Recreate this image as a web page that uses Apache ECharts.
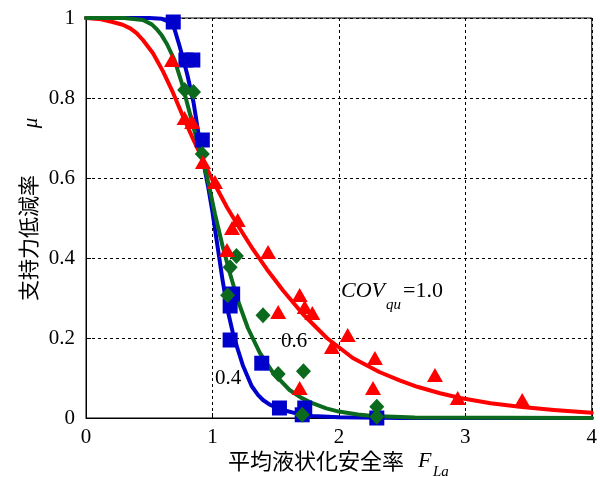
<!DOCTYPE html>
<html>
<head>
<meta charset="utf-8">
<script src="https://cdn.jsdelivr.net/npm/echarts@6/dist/echarts.min.js"></script>
<style>
html,body{margin:0;padding:0;background:#fff;}
#chart{width:600px;height:477px;}
</style>
</head>
<body>
<div id="chart"></div>
<script>
// ---- data ----
const xTicks = [0, 1, 2, 3, 4];
const yTicks = [0, 0.2, 0.4, 0.6, 0.8, 1];

// fitted curves (x = F_La, y = mu)
const blueCurve = [[0,1],[0.5,1],[0.6,0.998],[0.66,0.99],[0.70,0.972],[0.74,0.93],[0.80,0.86],[0.85,0.79],[0.885,0.72],[0.925,0.645],[0.965,0.58],[1.0,0.515],[1.04,0.43],[1.08,0.345],[1.12,0.27],[1.16,0.215],[1.20,0.172],[1.24,0.132],[1.31,0.08],[1.36,0.058],[1.40,0.045],[1.45,0.034],[1.51,0.025],[1.58,0.018],[1.67,0.011],[1.79,0.005],[2.0,0.002],[2.5,0],[4,0]];
const greenCurve = [[0,1],[0.3,1],[0.45,0.995],[0.52,0.984],[0.56,0.972],[0.60,0.956],[0.64,0.935],[0.70,0.895],[0.76,0.835],[0.81,0.775],[0.86,0.715],[0.92,0.65],[0.97,0.585],[1.02,0.51],[1.08,0.43],[1.14,0.36],[1.20,0.295],[1.28,0.225],[1.375,0.163],[1.48,0.113],[1.61,0.07],[1.70,0.051],[1.79,0.037],[1.90,0.024],[2.0,0.016],[2.15,0.009],[2.27,0.005],[2.6,0.001],[4,0]];
const redCurve = [[0,1],[0.12,0.997],[0.21,0.99],[0.29,0.983],[0.35,0.974],[0.40,0.962],[0.45,0.945],[0.53,0.912],[0.61,0.866],[0.69,0.812],[0.77,0.752],[0.85,0.695],[0.925,0.645],[1.0,0.595],[1.115,0.527],[1.22,0.472],[1.32,0.422],[1.43,0.372],[1.56,0.318],[1.715,0.26],[1.905,0.2],[2.11,0.15],[2.32,0.115],[2.48,0.094],[2.62,0.078],[2.80,0.062],[2.96,0.05],[3.20,0.037],[3.43,0.028],[3.70,0.02],[4,0.013]];

// observed points
const bluePoints = [[0.69,0.99],[0.79,0.895],[0.845,0.895],[0.92,0.695],[1.16,0.31],[1.14,0.28],[1.14,0.195],[1.39,0.137],[1.53,0.025],[1.73,0.025],[1.71,0.008],[2.3,0.0]];
const greenPoints = [[0.78,0.82],[0.85,0.815],[0.92,0.66],[1.19,0.405],[1.14,0.377],[1.12,0.307],[1.40,0.257],[1.52,0.11],[1.72,0.117],[1.71,0.008],[2.3,0.028],[2.3,0.003]];
const redPoints = [[0.68,0.895],[0.78,0.75],[0.84,0.74],[0.925,0.64],[1.02,0.59],[1.20,0.495],[1.155,0.475],[1.115,0.42],[1.44,0.415],[1.52,0.265],[1.69,0.3075],[1.73,0.2775],[1.79,0.2625],[1.945,0.1775],[2.07,0.2075],[2.285,0.15],[2.27,0.075],[1.69,0.075],[2.76,0.1075],[2.94,0.05],[3.45,0.045]];

const covLabels = ['0.4', '0.6', '=1.0'];

const BLUE = '#0000cc', GREEN = '#0b6a1e', RED = '#ff0000';
const SERIF = '"Liberation Serif", "Times New Roman", serif';
const CJK = '"Noto Sans CJK JP", "Noto Sans", sans-serif';

const chart = echarts.init(document.getElementById('chart'));

const axisCommon = {
  type: 'value',
  axisLine: { show: true, lineStyle: { color: '#000', width: 1 } },
  axisTick: { show: true, inside: true, length: 5, lineStyle: { color: '#000' } },
  axisLabel: { color: '#000', fontFamily: SERIF, fontSize: 21 },
  splitLine: { show: true, lineStyle: { color: '#000', width: 1, type: [3, 3] } }
};

function lineSeries(data, color, z) {
  return { type: 'line', data: data, showSymbol: false, smooth: false,
    clip: false, z: z, lineStyle: { color: color, width: 4, join: 'round', cap: 'round' }, itemStyle: { color: color }, silent: true };
}
function scatterSeries(data, color, symbol, size, z) {
  return { type: 'scatter', data: data, symbol: symbol, symbolSize: size, clip: false, z: z,
    itemStyle: { color: color, opacity: 1 } };
}

chart.setOption({
  animation: false,
  grid: { left: 86, top: 18, right: 8, bottom: 59, show: true, borderColor: '#000', borderWidth: 1, backgroundColor: 'transparent' },
  xAxis: Object.assign({}, axisCommon, { min: xTicks[0], max: xTicks[xTicks.length - 1], interval: 1,
    axisLabel: Object.assign({}, axisCommon.axisLabel, { margin: 9 }) }),
  yAxis: Object.assign({}, axisCommon, { min: yTicks[0], max: yTicks[yTicks.length - 1], interval: 0.2,
    axisLabel: Object.assign({}, axisCommon.axisLabel, { margin: 11 }) }),
  series: [
    lineSeries(blueCurve, BLUE, 2),
    lineSeries(redCurve, RED, 3),
    lineSeries(greenCurve, GREEN, 4),
    scatterSeries(bluePoints, BLUE, 'rect', 15, 5),
    scatterSeries(greenPoints, GREEN, 'diamond', [15, 16], 6),
    scatterSeries(redPoints, RED, 'triangle', [16, 14], 7)
  ],
  graphic: [
    { type: 'text', x: 28, y: 238, rotation: Math.PI / 2,
      style: { text: '支持力低減率', fontFamily: CJK, fontSize: 21, fill: '#000', align: 'center', verticalAlign: 'middle' } },
    { type: 'text', x: 31, y: 123, rotation: Math.PI / 2,
      style: { text: 'μ', fontFamily: SERIF, fontStyle: 'italic', fontSize: 21, fill: '#000', align: 'center', verticalAlign: 'middle' } },
    { type: 'text', x: 316, y: 461,
      style: { text: '平均液状化安全率', fontFamily: CJK, fontSize: 22, fill: '#000', align: 'center', verticalAlign: 'middle' } },
    { type: 'text', x: 418, y: 461,
      style: { text: 'F', fontFamily: SERIF, fontStyle: 'italic', fontSize: 22, fill: '#000', align: 'left', verticalAlign: 'middle' } },
    { type: 'text', x: 433, y: 472,
      style: { text: 'La', fontFamily: SERIF, fontStyle: 'italic', fontSize: 15, fill: '#000', align: 'left', verticalAlign: 'middle' } },
    { type: 'text', x: 341, y: 291,
      style: { text: 'COV', fontFamily: SERIF, fontStyle: 'italic', fontSize: 22, fill: '#000', align: 'left', verticalAlign: 'middle' } },
    { type: 'text', x: 386, y: 305,
      style: { text: 'qu', fontFamily: SERIF, fontStyle: 'italic', fontSize: 15, fill: '#000', align: 'left', verticalAlign: 'middle' } },
    { type: 'text', x: 403, y: 291,
      style: { text: covLabels[2], fontFamily: SERIF, fontSize: 22, fill: '#000', align: 'left', verticalAlign: 'middle' } },
    { type: 'text', x: 294, y: 341,
      style: { text: covLabels[1], fontFamily: SERIF, fontSize: 21, fill: '#000', align: 'center', verticalAlign: 'middle' } },
    { type: 'text', x: 228, y: 378,
      style: { text: covLabels[0], fontFamily: SERIF, fontSize: 21, fill: '#000', align: 'center', verticalAlign: 'middle' } }
  ]
});
</script>
</body>
</html>
